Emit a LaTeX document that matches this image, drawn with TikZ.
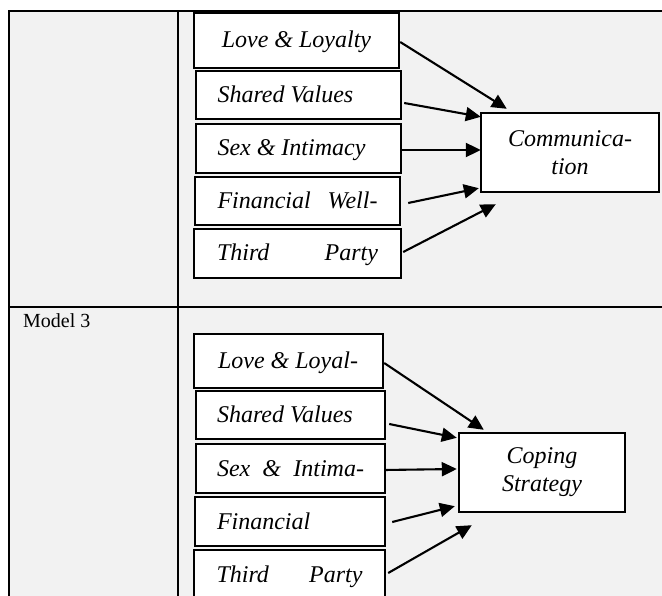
\documentclass[tikz,border=0pt]{standalone}
\usepackage{fontspec}
\setmainfont{Liberation Serif}
\usetikzlibrary{arrows.meta,calc}
\definecolor{cellgray}{HTML}{F2F2F2}
\newcommand{\boxfont}{\fontsize{24}{28}\selectfont\itshape}
\newcommand{\labfont}{\fontsize{20}{24}\selectfont}
\begin{document}
\begin{tikzpicture}[x=1pt,y=-1pt,
  tbl/.style={line width=2.3pt},
  factor/.style={draw, line width=2.4pt, fill=white, inner sep=0pt, font=\boxfont, text height=17pt, text depth=2pt},
  outcome/.style={draw, line width=2.4pt, fill=white, inner sep=0pt, font=\boxfont, align=center},
  link/.style={line width=2.1pt, -{Triangle[length=15pt,width=14pt]}}]
\useasboundingbox (0,0) rectangle (662,596);
\clip (0,0) rectangle (662,596);
% table background and rules
\fill[cellgray] (9,11) rectangle (662,600);
\coordinate (tl) at (9,11);
\coordinate (tr) at (662,11);
\coordinate (bl) at (9,600);
\coordinate (ct) at (178,11);
\coordinate (cb) at (178,600);
\coordinate (ml) at (9,307);
\coordinate (mr) at (662,307);
\draw[tbl] (tr) -- (tl) -- (bl);
\draw[tbl] (ct) -- (cb);
\draw[tbl] (ml) -- (mr);
\node[anchor=base west, font=\labfont, inner sep=0pt] (m3) at (23,327) {Model 3};
% top model
\node[factor, minimum width=205pt, minimum height=55pt] (ll1) at (296.5,40.5) {\hbox to 160pt{\hfil Love \& Loyalty\hfil}};
\node[factor, minimum width=205pt, minimum height=48pt] (sv1) at (298.5,95) {\hbox to 162pt{Shared Values\hfill}};
\node[factor, minimum width=205pt, minimum height=49pt] (si1) at (298.5,148.5) {\hbox to 162pt{Sex \& Intimacy\hfill}};
\node[factor, minimum width=205pt, minimum height=48pt] (fw1) at (297.5,201) {\hbox to 160pt{Financial\hfill Well-}};
\node[factor, minimum width=207pt, minimum height=49pt] (tp1) at (297.5,253.5) {\hbox to 161pt{Third\hfill Party}};
\node[outcome, minimum width=178pt, minimum height=79pt] (comm) at (570,152.5) {Communica-\\tion};
\draw[link] ($(ll1.east)+(0,1.5)$) -- ($(comm.north west)+(27,-3)$);
\draw[link] ($(sv1.east)+(2,8)$) -- ($(comm.north west)+(1,5)$);
\draw[link] ($(si1.east)+(-1,1.5)$) -- ($(comm.west)+(1,-2.5)$);
\draw[link] ($(fw1.east)+(7,2)$) -- ($(comm.south west)+(-1,-5)$);
\draw[link] ($(tp1.east)+(1,-1.5)$) -- ($(comm.south west)+(16,11)$);
% bottom model
\node[factor, minimum width=189pt, minimum height=54pt] (ll2) at (288.5,361) {\hbox to 141pt{Love \& Loyal-\hfill}};
\node[factor, minimum width=189pt, minimum height=48pt] (sv2) at (290.5,415) {\hbox to 147pt{Shared Values\hfill}};
\node[factor, minimum width=189pt, minimum height=49pt] (si2) at (290.5,468.5) {\hbox to 147pt{Sex\hfill\&\hfill Intima-}};
\node[factor, minimum width=190pt, minimum height=49pt] (fn2) at (290,521.5) {\hbox to 146pt{Financial\hfill}};
\node[factor, minimum width=191pt, minimum height=49pt] (tp2) at (289.5,574.5) {\hbox to 146pt{Third\hfill Party}};
\node[outcome, minimum width=166pt, minimum height=79pt] (cope) at (542,472.5) {Coping\\Strategy};
\draw[link] ($(ll2.east)+(0,2)$) -- ($(cope.north west)+(26,-2)$);
\draw[link] ($(sv2.east)+(3,9)$) -- ($(cope.north west)+(-1,6)$);
\draw[link] ($(si2.east)+(-2,1.5)$) -- ($(cope.west)+(-1,-3.5)$);
\draw[link] ($(fn2.east)+(6,0.5)$) -- ($(cope.south west)+(-3,-7)$);
\draw[link] ($(tp2.east)+(2,-1.5)$) -- ($(cope.south west)+(14,12)$);
\end{tikzpicture}
\end{document}
